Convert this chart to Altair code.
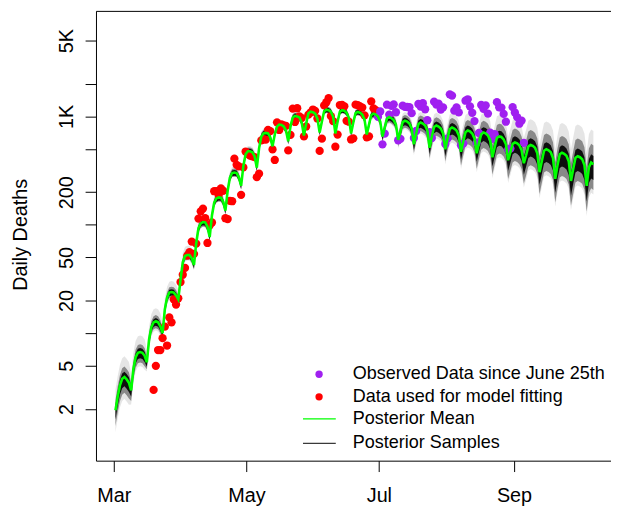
import altair as alt
import pandas as pd

FONT = "Liberation Sans, Arial, Helvetica, sans-serif"

# ---- legend / series ----
point_series = ["Observed Data since June 25th", "Data used for model fitting"]
point_colors = ["#A020F0", "#FF0000"]
mean_series = ["Posterior Mean"]
mean_colors = ["#00FF00"]
sample_series = ["Posterior Samples"]
sample_colors = ["#000000"]

# ---- x axis: day index (day 0 = first modelled day, Mar 1 2020) ----
x_tick_days = [-0.75, 58.4, 117.4, 177.6]
x_tick_labels = ["Mar", "May", "Jul", "Sep"]

# ---- y axis (log) ----
y_tick_values = [2, 5, 10, 20, 50, 100, 200, 500, 1000, 2000, 5000]
y_tick_labels = ["2", "5", "", "20", "50", "", "200", "", "1K", "", "5K"]

# ---- posterior mean, one value per day, day 0 .. 213 (rows = weeks) ----
posterior_mean = [
    1.95, 2.6, 3.3, 3.8, 3.95, 3.75, 3.5,
    2.97, 4.7, 6.0, 6.6, 6.7, 6.6, 6.2,
    5.4, 8.8, 11.4, 12.6, 12.9, 12.6, 11.6,
    10.0, 16.6, 21.3, 23.7, 24.0, 23.7, 22.3,
    20.5, 31, 45, 51.5, 52.6, 52.6, 49,
    42.6, 68, 93, 103, 106, 105, 96,
    77, 122, 160, 175, 179, 178, 163,
    135, 206, 272, 300, 303, 300, 274,
    229, 348, 447, 477, 477, 467, 429,
    336, 507, 653, 696, 704, 696, 640,
    529, 680, 806, 840, 833, 806, 741,
    588, 806, 975, 1010, 1000, 975, 877,
    667, 858, 1070, 1104, 1094, 1059, 953,
    710, 895, 1115, 1151, 1140, 1104, 994,
    696, 895, 1104, 1140, 1128, 1081, 975,
    696, 877, 1070, 1098, 1081, 1038, 933,
    681, 840, 1030, 1059, 1038, 994, 895,
    650, 790, 955, 988, 962, 923, 840,
    607, 726, 886, 913, 895, 858, 773,
    552, 696, 850, 877, 858, 823, 741,
    513, 653, 798, 823, 806, 773, 696,
    497, 626, 765, 790, 773, 741, 667,
    472, 588, 715, 741, 726, 696, 626,
    457, 564, 685, 710, 696, 667, 600,
    420, 518, 634, 653, 645, 613, 552,
    394, 467, 558, 576, 564, 540, 487,
    370, 438, 529, 546, 535, 513, 457,
    306, 386, 482, 497, 487, 467, 412,
    265, 355, 447, 462, 452, 433, 386,
    254, 327, 415, 429, 420, 403, 355,
    229, 340, 375, 362,
]

# ---- spread of the posterior samples around the mean, per week (ratios) ----
core_upper = [1.12, 1.09, 1.07, 1.06, 1.055, 1.055, 1.055, 1.055, 1.055, 1.055, 1.05,
              1.05, 1.05, 1.05, 1.05, 1.05, 1.05, 1.06, 1.07, 1.08, 1.09, 1.10,
              1.11, 1.12, 1.13, 1.14, 1.15, 1.16, 1.17, 1.18, 1.19]
core_lower = [1.22, 1.14, 1.10, 1.08, 1.07, 1.07, 1.07, 1.07, 1.07, 1.07, 1.055,
              1.055, 1.055, 1.055, 1.055, 1.055, 1.06, 1.08, 1.10, 1.12, 1.14, 1.16,
              1.18, 1.20, 1.22, 1.25, 1.28, 1.31, 1.34, 1.37, 1.40]
mid_upper = [1.25, 1.18, 1.14, 1.12, 1.10, 1.10, 1.09, 1.09, 1.08, 1.08, 1.07,
             1.07, 1.07, 1.07, 1.07, 1.07, 1.08, 1.10, 1.13, 1.16, 1.19, 1.22,
             1.25, 1.28, 1.31, 1.34, 1.37, 1.40, 1.43, 1.46, 1.49]
mid_lower = [1.40, 1.25, 1.16, 1.12, 1.10, 1.10, 1.09, 1.09, 1.08, 1.08, 1.07,
             1.07, 1.07, 1.07, 1.07, 1.07, 1.09, 1.12, 1.16, 1.20, 1.24, 1.29,
             1.34, 1.39, 1.44, 1.49, 1.54, 1.59, 1.64, 1.69, 1.73]
outer_upper = [1.55, 1.42, 1.32, 1.26, 1.22, 1.19, 1.16, 1.14, 1.12, 1.11, 1.09,
               1.09, 1.09, 1.09, 1.09, 1.09, 1.11, 1.15, 1.20, 1.25, 1.31, 1.37,
               1.44, 1.51, 1.58, 1.65, 1.72, 1.80, 1.88, 1.96, 2.02]
outer_lower = [1.60, 1.35, 1.22, 1.16, 1.13, 1.11, 1.10, 1.09, 1.08, 1.08, 1.07,
               1.07, 1.07, 1.07, 1.07, 1.07, 1.10, 1.15, 1.20, 1.26, 1.32, 1.38,
               1.44, 1.50, 1.56, 1.62, 1.68, 1.74, 1.80, 1.86, 1.90]

# ---- observed daily deaths ----
fit_start_day = 17          # Mar 18 .. Jun 25
fit_deaths = [
    3, 5, 7, 7, 9, 11.5, 7.7, 14, 12.6, 20.5, 18.4, 21, 29.6, 34.6,
    40, 52, 56, 70, 54, 67, 114, 133, 141, 115, 68, 99, 105, 204,
    204, 188, 217, 206, 115, 113, 166, 165, 407, 357, 346, 189, 338, 474,
    449, 435, 428, 421, 275, 296, 600, 615, 610, 751, 730, 496, 396, 881,
    749, 844, 824, 816, 485, 674, 1179, 888, 1188, 1001, 965, 653, 807, 1039,
    1086, 1156, 1124, 956, 480, 623, 1262, 1349, 1473, 1005, 904, 525, 679, 1272,
    1274, 1239, 909, 892, 612, 627, 1282, 1269, 1238, 1206, 1022, 641, 654, 1374,
    1185, 1141,
]
obs_start_day = 117         # Jun 26 .. Aug 30
obs_deaths = [
    990, 1109, 552, 692, 1280, 1038, 1252, 1290, 1091, 602, 620, 1254,
    1223, 1220, 1214, 1071, 631, 733, 1300, 1233, 1322, 1163, 921, 716,
    632, 1367, 1284, 1311, 1156, 1211, 555, 627, 1595, 1554, 1129, 1212,
    1088, 541, 561, 1394, 1437, 1237, 1079, 905, 572, 703, 1274, 1175,
    1262, 1060, 709, 620, 684, 1352, 1212, 1204, 1054, 892, 494, 504,
    1215, 1085, 984, 855, 914, 570,
]

# ---- tables ----
days = list(range(len(posterior_mean)))
fan = pd.DataFrame({"day": days, "mean": posterior_mean})
for name, up, lo in [("core", core_upper, core_lower),
                     ("mid", mid_upper, mid_lower),
                     ("outer", outer_upper, outer_lower)]:
    fan[name + "_hi"] = [m * up[d // 7] for d, m in zip(days, posterior_mean)]
    fan[name + "_lo"] = [m / lo[d // 7] for d, m in zip(days, posterior_mean)]
fan["mean_series"] = mean_series[0]
fan["sample_series"] = sample_series[0]

fit = pd.DataFrame({"day": [fit_start_day + i for i in range(len(fit_deaths))],
                    "deaths": fit_deaths, "series": point_series[1]})
obs = pd.DataFrame({"day": [obs_start_day + i for i in range(len(obs_deaths))],
                    "deaths": obs_deaths, "series": point_series[0]})

# ---- scales / axes ----
x_scale = alt.Scale(domain=[-8.68, 220.84], nice=False, zero=False)
y_scale = alt.Scale(type="log", domain=[0.668, 9390], nice=False)
point_scale = alt.Scale(domain=point_series, range=point_colors)
mean_scale = alt.Scale(domain=mean_series, range=mean_colors)
sample_scale = alt.Scale(domain=sample_series, range=sample_colors)

x_label_expr = "{}[indexof({}, datum.value)]".format(str(x_tick_labels), str(x_tick_days))
y_label_expr = "{}[indexof({}, datum.value)]".format(str(y_tick_labels), str(y_tick_values))

x_axis = alt.Axis(values=x_tick_days, labelExpr=x_label_expr, title=None,
                  grid=False, domain=False, tickSize=11, tickColor="black",
                  labelFontSize=20, labelPadding=30, labelBaseline="alphabetic",
                  labelColor="black", labelFont=FONT, labelOverlap=False,
                  labelFlush=False)
y_axis = alt.Axis(values=y_tick_values, labelExpr=y_label_expr, title="Daily Deaths",
                  grid=False, domain=False, tickSize=11, tickColor="black",
                  labelAngle=270, labelAlign="center", labelBaseline="alphabetic",
                  labelPadding=13, labelFontSize=20, labelColor="black",
                  labelFont=FONT, labelOverlap=False,
                  titleFontSize=20, titleFont=FONT, titleFontWeight="normal",
                  titleColor="black", titleAngle=270, titleAlign="center",
                  titleBaseline="alphabetic", titleX=-70, titleY=226)

point_legend = alt.Legend(
    title=None, orient="none", legendX=216.6, legendY=358.5, padding=0,
    labelFont=FONT, labelFontSize=18.2, labelColor="black", labelLimit=400,
    symbolType="circle", symbolSize=55, symbolStrokeWidth=0,
    rowPadding=3.8, labelOffset=24.9, direction="vertical",
)
mean_legend = alt.Legend(
    title=None, orient="none", legendX=208.5, legendY=395.3, padding=0,
    labelFont=FONT, labelFontSize=18.2, labelColor="black", labelLimit=400,
    symbolType="stroke", symbolSize=1100, symbolStrokeWidth=1.3,
    labelOffset=16.2, direction="vertical",
)
sample_legend = alt.Legend(
    title=None, orient="none", legendX=208.5, legendY=420, padding=0,
    labelFont=FONT, labelFontSize=18.2, labelColor="black", labelLimit=400,
    symbolType="stroke", symbolSize=1100, symbolStrokeWidth=1.3,
    symbolStrokeColor="#3a3a3a", symbolOpacity=1,
    labelOffset=16.2, direction="vertical",
)

X = alt.X("day:Q", scale=x_scale, axis=x_axis)
base_fan = alt.Chart(fan)

outer = base_fan.mark_area(color="black", opacity=0.10).encode(
    x=X,
    y=alt.Y("outer_lo:Q", scale=y_scale, axis=y_axis),
    y2="outer_hi:Q",
)
mid = base_fan.mark_area(color="black", opacity=0.40).encode(
    x=X,
    y=alt.Y("mid_lo:Q", scale=y_scale, axis=y_axis),
    y2="mid_hi:Q",
)
core = base_fan.mark_area(fillOpacity=0.9).encode(
    x=X,
    y=alt.Y("core_lo:Q", scale=y_scale, axis=y_axis),
    y2="core_hi:Q",
    fill=alt.Fill("sample_series:N", scale=sample_scale, legend=sample_legend),
)
red_pts = alt.Chart(fit).mark_circle(size=70, opacity=1).encode(
    x=X,
    y=alt.Y("deaths:Q", scale=y_scale, axis=y_axis),
    color=alt.Color("series:N", scale=point_scale, legend=point_legend),
)
purple_pts = alt.Chart(obs).mark_circle(size=70, opacity=1).encode(
    x=X,
    y=alt.Y("deaths:Q", scale=y_scale, axis=y_axis),
    color=alt.Color("series:N", scale=point_scale, legend=point_legend),
)
mean_line = base_fan.mark_line(strokeWidth=2.6).encode(
    x=X,
    y=alt.Y("mean:Q", scale=y_scale, axis=y_axis),
    stroke=alt.Stroke("mean_series:N", scale=mean_scale, legend=mean_legend),
)

chart = alt.layer(outer, mid, core, red_pts, purple_pts, mean_line).properties(
    width=521, height=455,
    autosize=alt.AutoSizeParams(type="none"),
    padding={"left": 89, "top": 0, "right": 0, "bottom": 48},
).configure_view(
    stroke="black", strokeWidth=1, strokeDash=[521, 455, 980]
).configure_axis(
    tickWidth=1
)

chart.save("out.html", embed_options={"renderer": "svg", "actions": False})
